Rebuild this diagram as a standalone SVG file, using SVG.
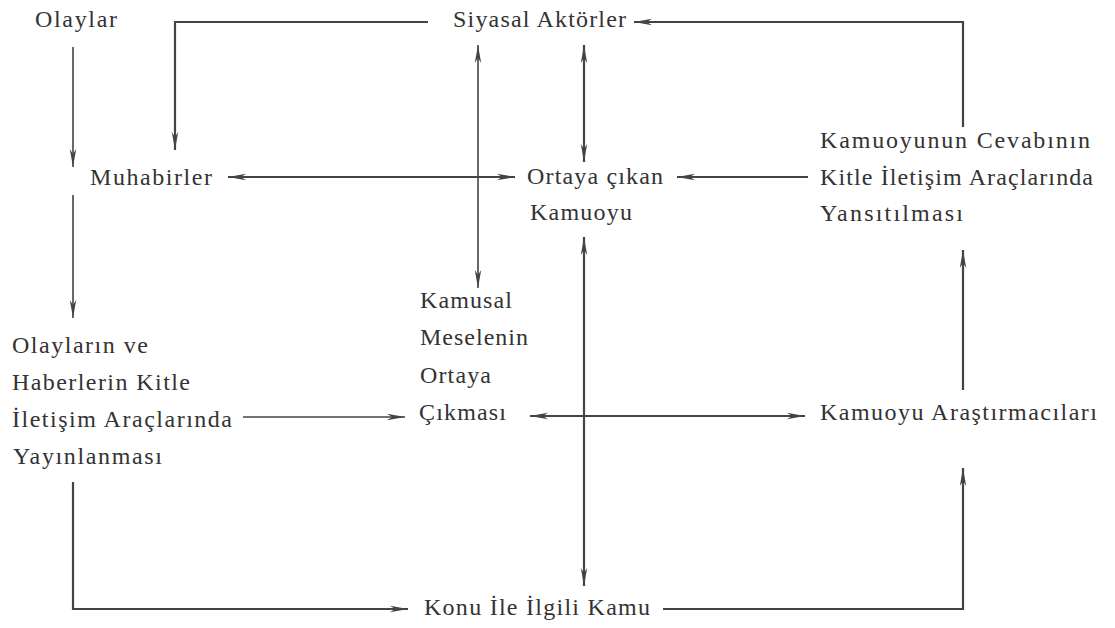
<svg xmlns="http://www.w3.org/2000/svg" width="1115" height="628" viewBox="0 0 1115 628">
<style>
.t{font-family:"Liberation Serif","Times New Roman",serif;font-size:24px;fill:#333}
.c{fill:none;stroke:#444;stroke-width:2.2}
.th{stroke-width:1.6}
</style>
<defs>
<marker id="ah" viewBox="0 0 18 8" refX="18" refY="4" markerWidth="18" markerHeight="8" markerUnits="userSpaceOnUse" orient="auto-start-reverse">
<path d="M0,0.8 L18,4 L0,7.2 L5,4 Z" fill="#444"/>
</marker>
</defs>
<rect width="1115" height="628" fill="#fff"/>
<g id="connectors">
<path class="c th" d="M73,47 V167" marker-end="url(#ah)"/>
<path class="c th" d="M73,195 V318" marker-end="url(#ah)"/>
<path class="c" d="M428,22 H175 V150" marker-end="url(#ah)"/>
<path class="c" d="M963,127 V22 H634" marker-end="url(#ah)"/>
<path class="c" d="M584,45 V162" marker-start="url(#ah)" marker-end="url(#ah)"/>
<path class="c th" d="M478,45 V288" marker-start="url(#ah)" marker-end="url(#ah)"/>
<path class="c" d="M228,177 H515" marker-start="url(#ah)" marker-end="url(#ah)"/>
<path class="c" d="M808,177 H677" marker-end="url(#ah)"/>
<path class="c" d="M584,237 V586" marker-start="url(#ah)" marker-end="url(#ah)"/>
<path class="c th" d="M243,417 H405" marker-end="url(#ah)"/>
<path class="c" d="M530,416 H805" marker-start="url(#ah)" marker-end="url(#ah)"/>
<path class="c" d="M963,390 V250" marker-end="url(#ah)"/>
<path class="c" d="M73,482 V609 H408" marker-end="url(#ah)"/>
<path class="c" d="M663,609 H963 V468" marker-end="url(#ah)"/>
</g>
<g id="olaylar"><text class="t" x="35" y="27" textLength="82" lengthAdjust="spacing">Olaylar</text></g>
<g id="siyasal-aktorler"><text class="t" x="453" y="27" textLength="173" lengthAdjust="spacing">Siyasal Aktörler</text></g>
<g id="muhabirler"><text class="t" x="90" y="185" textLength="122" lengthAdjust="spacing">Muhabirler</text></g>
<g id="ortaya-cikan-kamuoyu">
<text class="t" x="527" y="184" textLength="136" lengthAdjust="spacing">Ortaya çıkan</text>
<text class="t" x="530" y="220" textLength="102" lengthAdjust="spacing">Kamuoyu</text>
</g>
<g id="kamuoyunun-cevabi">
<text class="t" x="820" y="148" textLength="270" lengthAdjust="spacing">Kamuoyunun Cevabının</text>
<text class="t" x="820" y="185" textLength="273" lengthAdjust="spacing">Kitle İletişim Araçlarında</text>
<text class="t" x="820" y="221" textLength="143" lengthAdjust="spacing">Yansıtılması</text>
</g>
<g id="kamusal-mesele">
<text class="t" x="420" y="308" textLength="92" lengthAdjust="spacing">Kamusal</text>
<text class="t" x="420" y="345" textLength="108" lengthAdjust="spacing">Meselenin</text>
<text class="t" x="420" y="383" textLength="71" lengthAdjust="spacing">Ortaya</text>
<text class="t" x="419" y="420" textLength="87" lengthAdjust="spacing">Çıkması</text>
</g>
<g id="olaylarin-yayinlanmasi">
<text class="t" x="12" y="353" textLength="136" lengthAdjust="spacing">Olayların ve</text>
<text class="t" x="12" y="390" textLength="178" lengthAdjust="spacing">Haberlerin Kitle</text>
<text class="t" x="12" y="427" textLength="220" lengthAdjust="spacing">İletişim Araçlarında</text>
<text class="t" x="13" y="464" textLength="149" lengthAdjust="spacing">Yayınlanması</text>
</g>
<g id="kamuoyu-arastirmacilari"><text class="t" x="820" y="420" textLength="277" lengthAdjust="spacing">Kamuoyu Araştırmacıları</text></g>
<g id="konu-ile-ilgili-kamu"><text class="t" x="424" y="615" textLength="226" lengthAdjust="spacing">Konu İle İlgili Kamu</text></g>
</svg>
